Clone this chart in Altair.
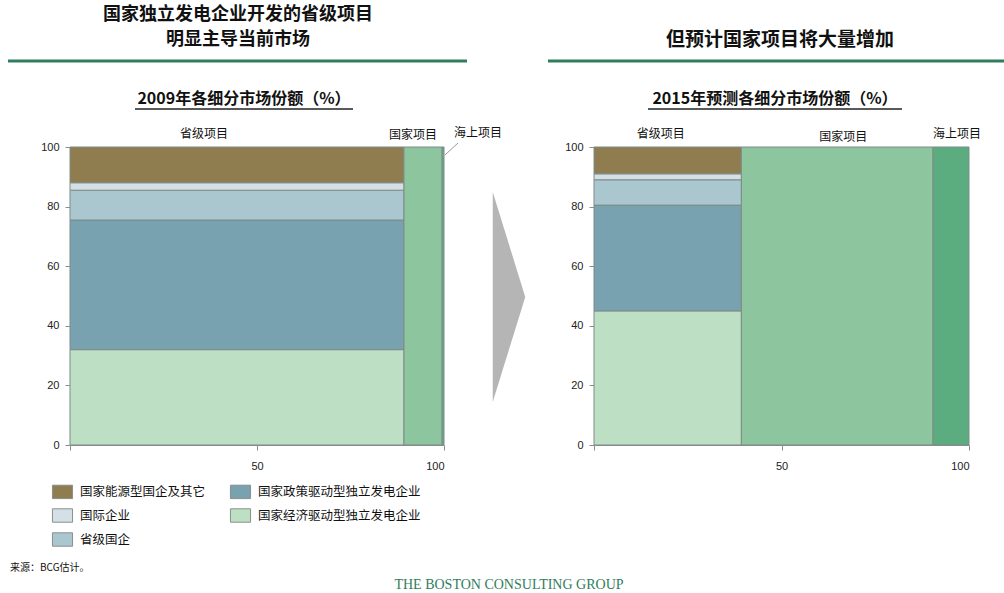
import altair as alt
import pandas as pd
import numpy as np

# ---------------- data ----------------
segments = ["国家经济驱动型独立发电企业", "国家政策驱动型独立发电企业", "省级国企", "国际企业", "国家能源型国企及其它"]
seg_colors = ["#BDDFC4", "#79A2B1", "#AAC6CE", "#D4E0E5", "#8F7D4F"]
columns = ["省级项目", "国家项目", "海上项目"]
col_colors = ["#8DC59E", "#5BAD80"]  # 国家项目, 海上项目

share_2009 = [32.0, 43.5, 10.0, 2.5, 12.0]
share_2015 = [45.0, 35.5, 8.5, 2.0, 9.0]
width_2009 = [89.3, 10.2, 0.5]
width_2015 = [39.3, 51.1, 9.6]

# legend entries, filled column by column
legend_order = ["国家能源型国企及其它", "国际企业", "省级国企", "国家政策驱动型独立发电企业", "国家经济驱动型独立发电企业"]

y_ticks = [0, 20, 40, 60, 80, 100]
x_ticks = [0, 50, 100]


def build(widths, shares):
    edges = np.concatenate([[0.0], np.cumsum(widths)])
    bottoms = np.concatenate([[0.0], np.cumsum(shares)])
    rows = []
    for i, s in enumerate(segments):
        rows.append(dict(cat=s, x=edges[0], x2=edges[1], y=bottoms[i], y2=bottoms[i + 1]))
    rows.append(dict(cat=columns[1], x=edges[1], x2=edges[2], y=0.0, y2=100.0))
    rows.append(dict(cat=columns[2], x=edges[2], x2=edges[3], y=0.0, y2=100.0))
    labels = pd.DataFrame(dict(label=columns, xm=(edges[:-1] + edges[1:]) / 2))
    return pd.DataFrame(rows), labels


df09, lab09 = build(width_2009, share_2009)
df15, lab15 = build(width_2015, share_2015)

CJK = "Noto Sans CJK SC"
GRAY = "#8a8f8e"

color_scale = alt.Scale(domain=segments + columns[1:], range=seg_colors + col_colors)
legend = alt.Legend(
    orient="none", legendX=55, legendY=484, columns=2, title=None, padding=0,
    values=legend_order, symbolType="M-1.5,-1H1.5V1H-1.5Z", symbolSize=180,
    symbolStrokeColor=GRAY, symbolStrokeWidth=1, labelFont=CJK, labelFontSize=12.5,
    labelColor="#111", labelOffset=10, columnPadding=22, rowPadding=5, labelLimit=0,
)


def panel(df, labs, xr, label_shift):
    xs = alt.Scale(domain=[0, 100], range=xr, nice=False, zero=False)
    ys = alt.Scale(domain=[0, 100], range=[445, 147], nice=False)
    bars = alt.Chart(df).mark_rect(stroke="#7f8b89", strokeWidth=1).encode(
        x=alt.X("x:Q", scale=xs, axis=alt.Axis(
            orient="bottom", offset=-148, values=x_ticks, title=None, grid=False,
            labelExpr="datum.value == 0 ? '' : datum.label", tickSize=5,
            labelPadding=10, domainColor=GRAY, tickColor=GRAY, labelColor="#222",
            labelFont="Liberation Sans", labelFontSize=11)),
        x2="x2:Q",
        y=alt.Y("y:Q", scale=ys, axis=alt.Axis(
            orient="left", offset=-xr[0], values=y_ticks, title=None, grid=False,
            tickSize=5, labelPadding=6, domainColor=GRAY, tickColor=GRAY,
            labelColor="#222", labelFont="Liberation Sans", labelFontSize=11)),
        y2="y2:Q",
        color=alt.Color("cat:N", scale=color_scale, legend=legend),
    )
    layers = [bars]
    for name, dx, yy in label_shift:
        layers.append(
            alt.Chart(labs).transform_filter(alt.datum.label == name)
            .mark_text(font=CJK, fontSize=12, color="#111", dx=dx)
            .encode(x=alt.X("xm:Q", scale=xs), y=alt.value(yy), text="label:N")
        )
    return alt.layer(*layers)


left = panel(df09, lab09, [70, 444], [("省级项目", -33, 134), ("国家项目", -10, 135), ("海上项目", 35, 133)])
right = panel(df15, lab15, [594, 969], [("省级项目", -7, 134), ("国家项目", 6, 137), ("海上项目", 6, 134)])

one = pd.DataFrame({"a": [0]})


def txt(s, x, y, size, bold=False, font=CJK, color="#111", align="center"):
    return alt.Chart(one).mark_text(
        text=s, font=font, fontSize=size, fontWeight="bold" if bold else "normal",
        color=color, align=align, baseline="middle",
    ).encode(x=alt.value(x), y=alt.value(y))


def rule(x1, x2, y1, y2, color, w):
    return alt.Chart(one).mark_rule(color=color, strokeWidth=w).encode(
        x=alt.value(x1), x2=alt.value(x2), y=alt.value(y1), y2=alt.value(y2))


GREEN = "#2F7D5C"
deco = [
    txt("国家独立发电企业开发的省级项目", 238, 15, 18, True),
    txt("明显主导当前市场", 238, 40, 18, True),
    txt("但预计国家项目将大量增加", 780, 40, 19, True),
    rule(8, 467, 61, 61, GREEN, 3),
    rule(548, 1004, 61, 61, GREEN, 3),
    txt("2009年各细分市场份额（%）", 244, 99, 16, True),
    txt("2015年预测各细分市场份额（%）", 775, 99, 16, True),
    rule(135, 353, 109, 109, "#222", 1.5),
    rule(648, 902, 109, 109, "#222", 1.5),
    rule(445, 458, 155, 143, "#999", 1),
    alt.Chart(one).mark_point(
        shape="M-0.155,-1L0.155,0L-0.155,1Z", size=44000, filled=True,
        color="#B5B5B5", opacity=1,
    ).encode(x=alt.value(509), y=alt.value(297)),
    txt("来源：BCG估计。", 10, 568, 10, align="left"),
    txt("THE BOSTON CONSULTING GROUP", 509, 585, 14, font="Liberation Serif", color=GREEN),
]

chart = alt.layer(left, right, *deco).resolve_scale(
    x="independent", y="independent", color="shared"
).resolve_axis(x="independent", y="independent").properties(
    width=1004, height=593, autosize=alt.AutoSizeParams(type="none"), padding=0,
    background="white",
).configure_view(stroke=None)

chart.save("out.html", embed_options={"renderer": "svg", "actions": False})
